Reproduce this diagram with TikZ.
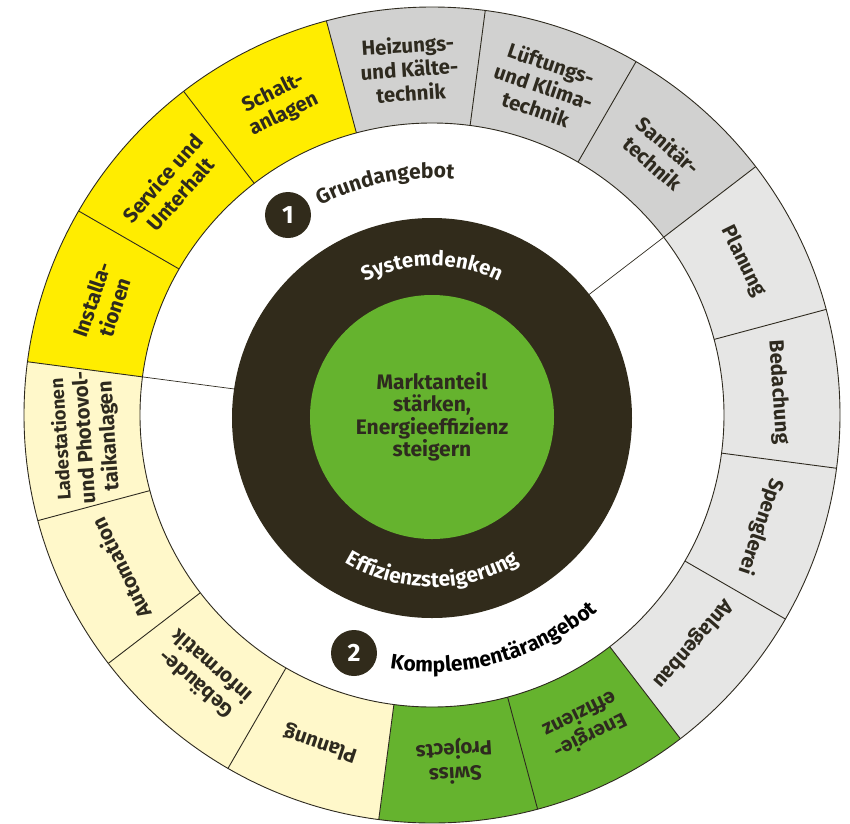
\documentclass[tikz,border=0pt]{standalone}
\usepackage{fontspec}
\setmainfont{Fira Sans}
\usetikzlibrary{decorations.text}
\definecolor{cYellow}{HTML}{FFED00}
\definecolor{cGrey}{HTML}{D1D1D0}
\definecolor{cLightGrey}{HTML}{E6E6E5}
\definecolor{cPale}{HTML}{FFF8CA}
\definecolor{cGreen}{HTML}{65B32E}
\definecolor{cDark}{HTML}{312B1B}
\definecolor{cText}{HTML}{2E2A1F}
\begin{document}
\begin{tikzpicture}[x=1pt,y=1pt,
  rimline/.style={draw=cText, line width=0.9pt},
  seglabel/.style={font=\bfseries\fontsize{20.5}{24}\selectfont, text=cText, align=center, inner sep=0pt},
  badge/.style={circle, fill=cDark, text=white, minimum size=46pt, inner sep=0pt, font=\bfseries\fontsize{25}{25}\selectfont},
]
\useasboundingbox (-432,-408) rectangle (418,415);
\def\Ro{408}
\def\Ri{292}
% segment fills
\foreach \a/\c in {105/cGrey,82.5/cGrey,60/cGrey,37.5/cLightGrey,15/cLightGrey,-7.5/cLightGrey,-30/cLightGrey,-52.5/cGreen,-75/cGreen,-97.5/cPale,-120/cPale,-142.5/cPale,-165/cPale,-187.5/cYellow,-210/cYellow,-232.5/cYellow}{
  \fill[\c] (\a:\Ro) arc[start angle=\a, end angle=\a-22.5, radius=\Ro] -- ({\a-22.5}:\Ri) arc[start angle=\a-22.5, end angle=\a, radius=\Ri] -- cycle;
}
% segment boundaries
\foreach \a [count=\i] in {105,82.5,60,37.5,15,-7.5,-30,-52.5,-75,-97.5,-120,-142.5,-165,-187.5,-210,-232.5}{
  \coordinate (bi\i) at (\a:\Ri);
  \coordinate (bo\i) at (\a:\Ro);
  \draw[rimline] (bi\i) -- (bo\i);
}
\draw[rimline] (0,0) circle[radius=\Ro];
\draw[rimline] (0,0) circle[radius=\Ri];
% extension lines
\coordinate (x1) at (37.5:196);
\coordinate (x2) at (172.5:196);
\draw[rimline, line width=0.7pt] (bi4) -- (x1);
\draw[rimline, line width=0.7pt] (bi14) -- (x2);
% labels
\foreach \a/\t [count=\i] in {105/{Heizungs-\\und Kälte-\\technik},82.5/{Lüftungs-\\und Klima-\\technik},60/{Sanitär-\\technik},37.5/{Planung},15/{Bedachung},-7.5/{Spenglerei},-30/{Anlagenbau},-52.5/{Energie-\\effizienz},-75/{Swiss\\Projects},-97.5/{Planung},-120/{Gebäude-\\informatik},-142.5/{Automation},-165/{\fontsize{18.5}{24.5}\selectfont Ladestationen\\und Photovol-\\taikanlagen},-187.5/{Installa-\\tionen},-210/{Service und\\Unterhalt},-232.5/{Schalt-\\anlagen}}{
  \node[seglabel, rotate=\a-101.25] (seg\i) at ({\a-11.25}:347) {\t};
}
% core
\node[circle, fill=cDark, minimum size=400pt, inner sep=0pt] (core) at (0,-3) {};
\node[circle, fill=cGreen, minimum size=244pt, inner sep=0pt, text=cText, align=center, font=\bfseries\fontsize{21}{22.5}\selectfont] (goal) at (0,-2) {Marktanteil\\stärken,\\Energieeffizienz\\steigern};
\path[shift={(0,-3)}, decorate, decoration={text along path, text align=center, text color=white, text={|\bfseries\fontsize{20.5}{20}\selectfont|Systemdenken}}] (130:152) arc[start angle=130, end angle=50, radius=152];
\path[shift={(0,-3)}, decorate, decoration={text along path, text align=center, text color=white, text={|\bfseries\fontsize{21}{20}\selectfont|Effizienzsteigerung}}] (-135:169) arc[start angle=-135, end angle=-45, radius=169];
% badges
\node[badge] (n1) at (-144,200) {1};
\node[badge] (n2) at (-78,-238) {2};
\path[decorate, decoration={text along path, text align=center, text color=cText, text={|\bfseries\fontsize{21}{20}\selectfont|Grundangebot}}] (125:237) arc[start angle=125, end angle=77.8, radius=237];
\path[decorate, decoration={text along path, text align=center, text color=black, text={|\bfseries\fontsize{21}{20}\selectfont|Komplementärangebot}}] (-110:257) arc[start angle=-110, end angle=-39.2, radius=257];
\end{tikzpicture}
\end{document}
